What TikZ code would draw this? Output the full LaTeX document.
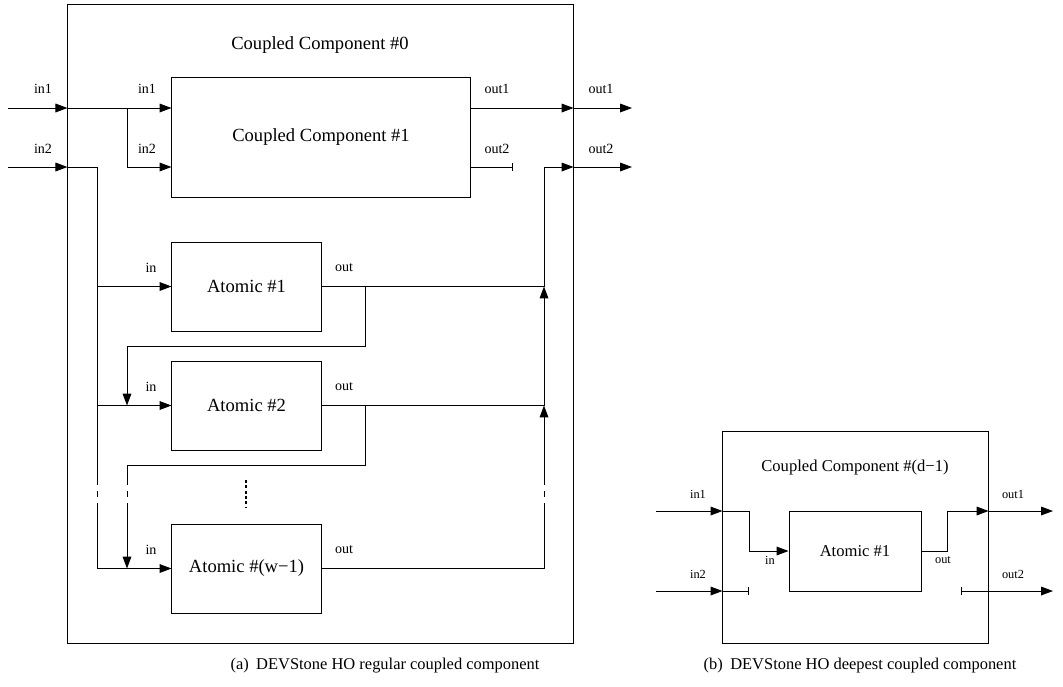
\documentclass[tikz,border=0pt]{standalone}
\usepackage{fontspec}
\setmainfont{Liberation Serif}
\usetikzlibrary{arrows.meta}

\begin{document}
\begin{tikzpicture}[x=0.025cm,y=-0.025cm,line width=0.7pt,
  >={Triangle[length=8.5pt,width=6.2pt]},
  box/.style={draw,inner sep=0pt},
  big/.style={font=\fontsize{13.2}{16}\selectfont},
  lbl/.style={font=\fontsize{10}{12}\selectfont},
  rbig/.style={font=\fontsize{11.8}{14}\selectfont},
  rlbl/.style={font=\fontsize{8.8}{10}\selectfont},
  capt/.style={font=\fontsize{11.7}{14}\selectfont},
  stub/.style={-{Bar[width=5pt]}},
  gap/.style={draw=white,line width=2pt}]
\useasboundingbox (0,0) rectangle (1063,686);
% (a) regular coupled component
\begin{scope}
\node[box,minimum width=12.625cm,minimum height=15.95cm] (CC0) at (320.5,324) {};
\node[big] (cc0lbl) at (320,45) {Coupled Component \#0};
\node[box,big,minimum width=7.45cm,minimum height=2.975cm] (CC1) at (321,137.5) {Coupled Component \#1};
\foreach \n/\y/\t in {1/286.5/{Atomic \#1},2/405.5/{Atomic \#2},3/568.5/{Atomic \#(w−1)}}{
  \node[box,big,minimum width=3.725cm,minimum height=2.225cm] (A\n) at (246.5,\y) {\t};
  \node[lbl] (A\n-in) at (151,\y-19) {in};
  \node[lbl] (A\n-out) at (344,\y-19) {out};
}
\foreach \x/\t in {43/in,147/in,497/out,601/out}{
  \node[lbl] (\t1-\x) at (\x,89) {\t1};
  \node[lbl] (\t2-\x) at (\x,149) {\t2};
}
\coordinate (in1s) at (8,108);
\coordinate (in2s) at (8,167);
\coordinate (out1e) at (632,108);
\coordinate (out2e) at (632,167);
\coordinate (out2x) at (513,167);
\coordinate (vin) at (97,0);
\coordinate (vfb) at (127,0);
\coordinate (vout) at (544,0);
\coordinate (fb1) at (365,346);
\coordinate (fb2) at (365,465);
% inputs
\draw[->] (in1s) -- (CC0.west |- in1s);
\draw[->] (in2s) -- (CC0.west |- in2s);
\draw[->] (CC0.west |- in1s) -- (CC1.west |- in1s);
\draw[->] (vfb |- in1s) |- (CC1.west |- in2s);
\draw[->] (CC0.west |- in2s) -| (vin |- A3.west) -- (A3.west);
\draw[->] (vin |- A1.west) -- (A1.west);
\draw[->] (vin |- A2.west) -- (A2.west);
% outputs
\draw[->] (CC1.east |- in1s) -- (CC0.east |- in1s);
\draw[->] (CC0.east |- in1s) -- (out1e);
\draw[stub] (CC1.east |- in2s) -- (out2x);
\draw[->] (A1.east) -| (vout |- in2s) -- (CC0.east |- in2s);
\draw[->] (A2.east) -| (vout |- A1.east);
\draw[->] (A3.east) -| (vout |- A2.east);
\draw[->] (CC0.east |- in2s) -- (out2e);
% chain between atomics
\draw[->] (fb1 |- A1.east) -- (fb1) -| (vfb |- A2.west);
\draw[->] (fb2 |- A2.east) -- (fb2) -| (vfb |- A3.west);
\foreach \x in {97,127,544}{
  \draw[gap] (\x,485) -- (\x,491);
  \draw[gap] (\x,497) -- (\x,503);
}
\draw[line width=1.2pt,dash pattern=on 2pt off 1.8pt] (246,480) -- (246,507);
\node[capt] (capa) at (385,666) {(a)\hspace{0.45em}DEVStone HO regular coupled component};
\end{scope}
% (b) deepest coupled component
\begin{scope}
\node[box,minimum width=6.625cm,minimum height=5.275cm] (RC) at (855.5,537.5) {};
\node[rbig] (rclbl) at (855,467) {Coupled Component \#(d−1)};
\node[box,rbig,minimum width=3.3cm,minimum height=2cm] (RA) at (855,551) {Atomic \#1};
\node[rlbl] (rin1) at (698,494) {in1};
\node[rlbl] (rin2) at (698,574) {in2};
\node[rlbl] (rin) at (770,560) {in};
\node[rlbl] (rout) at (943,560) {out};
\node[rlbl] (rout1) at (1013,494) {out1};
\node[rlbl] (rout2) at (1013,574) {out2};
\coordinate (rin1s) at (656,511);
\coordinate (rin2s) at (656,591);
\coordinate (rjin) at (749,551);
\coordinate (rin2x) at (749,591);
\coordinate (rjout) at (947,551);
\coordinate (rout1e) at (1053,511);
\coordinate (rout2s) at (961,591);
\coordinate (rout2e) at (1053,591);
\draw[->] (rin1s) -- (RC.west |- rin1s);
\draw[->] (rin2s) -- (RC.west |- rin2s);
\draw[->] (RC.west |- rin1s) -| (rjin) -- (RA.west);
\draw[stub] (RC.west |- rin2s) -- (rin2x);
\draw[->] (RA.east) -- (rjout) |- (RC.east |- rin1s);
\draw[->] (RC.east |- rin1s) -- (rout1e);
\draw[{Bar[width=5pt]}->] (rout2s) -- (rout2e);
\node[capt] (capb) at (860,666) {(b)\hspace{0.45em}DEVStone HO deepest coupled component};
\end{scope}
\end{tikzpicture}
\end{document}
